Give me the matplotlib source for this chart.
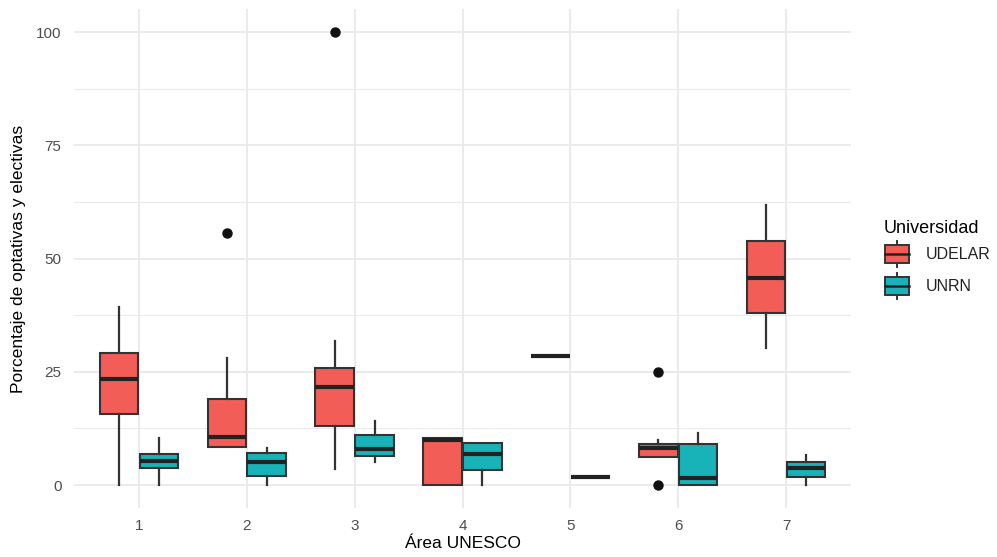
import matplotlib.pyplot as plt
from matplotlib.patches import Rectangle
from matplotlib.lines import Line2D

plt.rcParams['font.family'] = ['Liberation Sans', 'DejaVu Sans']

# Área UNESCO
areas = [1, 2, 3, 4, 5, 6, 7]

# UDELAR box stats
udelar_lo = [0.0, 8.3, 3.5, 0.0, 28.5, 6.3, 30.2]
udelar_q1 = [15.7, 8.3, 13.0, 0.0, 28.5, 6.3, 37.9]
udelar_med = [23.4, 10.7, 21.6, 9.9, 28.5, 8.1, 45.8]
udelar_q3 = [29.1, 19.0, 25.8, 10.4, 28.5, 9.1, 53.9]
udelar_hi = [39.4, 28.0, 31.8, 10.4, 28.5, 9.9, 61.8]
udelar_out = [[], [55.6], [100.0], [], [], [24.9, 0.0], []]

# UNRN box stats
unrn_lo = [0.0, 0.0, 5.1, 0.0, 1.8, 0.0, 0.0]
unrn_q1 = [3.7, 2.1, 6.5, 3.3, 1.8, 0.0, 1.7]
unrn_med = [5.4, 5.1, 7.9, 6.8, 1.8, 1.6, 3.7]
unrn_q3 = [6.8, 7.1, 11.0, 9.3, 1.8, 9.0, 5.1]
unrn_hi = [10.4, 8.2, 14.2, 9.3, 1.8, 11.5, 6.6]
unrn_out = [[], [], [], [], [], [], []]

red = '#F25D58'
teal = '#17B3B8'
edge = '#333333'


def make_stats(lo, q1, med, q3, hi, out):
    return [dict(whislo=a, q1=b, med=c, q3=d, whishi=e, fliers=f)
            for a, b, c, d, e, f in zip(lo, q1, med, q3, hi, out)]


fig = plt.figure(figsize=(9.97, 5.57), dpi=100)
ax = fig.add_axes([0.0742, 0.0885, 0.7794, 0.8945])

groups = [
    ('UDELAR', red, -0.185, make_stats(udelar_lo, udelar_q1, udelar_med, udelar_q3, udelar_hi, udelar_out)),
    ('UNRN', teal, 0.185, make_stats(unrn_lo, unrn_q1, unrn_med, unrn_q3, unrn_hi, unrn_out)),
]

for name, col, off, stats in groups:
    ax.bxp(stats, positions=[a + off for a in areas], widths=0.355,
           patch_artist=True, showcaps=False, manage_ticks=False,
           boxprops=dict(facecolor=col, edgecolor=edge, linewidth=1.5),
           medianprops=dict(color='#222222', linewidth=3),
           whiskerprops=dict(color=edge, linewidth=1.6),
           flierprops=dict(marker='o', markerfacecolor='#111111',
                           markeredgecolor='#111111', markersize=6.5),
           zorder=3)

ax.set_xlim(0.4, 7.6)
ax.set_ylim(-5, 105)
ax.set_xticks(areas)
ax.set_xticklabels([str(a) for a in areas])
ax.set_yticks([0, 25, 50, 75, 100])
ax.set_yticks([12.5, 37.5, 62.5, 87.5], minor=True)
ax.tick_params(axis='both', which='both', length=0, labelsize=11, colors='#4D4D4D')
ax.tick_params(axis='y', pad=9)
ax.tick_params(axis='x', pad=8)
ax.grid(True, which='major', color='#EBEBEB', linewidth=1.4, zorder=0)
ax.grid(True, which='minor', axis='y', color='#EBEBEB', linewidth=0.8, zorder=0)
ax.set_axisbelow(True)
for s in ax.spines.values():
    s.set_visible(False)

ax.set_xlabel('Área UNESCO', fontsize=12.5, labelpad=2)
ax.set_ylabel('Porcentaje de optativas y electivas', fontsize=12.5, labelpad=7)


class BoxKey:
    def __init__(self, color):
        self.color = color

    def legend_artist(self, legend, orig_handle, fontsize, handlebox):
        x0, y0 = -handlebox.xdescent, -handlebox.ydescent
        w, h = handlebox.width, handlebox.height
        tr = handlebox.get_transform()
        cx = x0 + w / 2
        handlebox.add_artist(Line2D([cx, cx], [y0 + h * 0.07, y0 + h * 0.93],
                                    color=edge, lw=1.4, transform=tr))
        rect = Rectangle((x0 + 1, y0 + h * 0.21), w - 2, h * 0.58,
                         facecolor=self.color, edgecolor=edge, lw=1.4, transform=tr)
        handlebox.add_artist(rect)
        handlebox.add_artist(Line2D([x0 + 1, x0 + w - 1], [y0 + h / 2] * 2,
                                    color='#222222', lw=1.8, transform=tr))
        return rect


h1 = Rectangle((0, 0), 1, 1)
h2 = Rectangle((0, 0), 1, 1)
leg = fig.legend([h1, h2], ['UDELAR', 'UNRN'],
                 handler_map={h1: BoxKey(red), h2: BoxKey(teal)},
                 title='Universidad', loc='center left',
                 bbox_to_anchor=(0.872, 0.532), frameon=False,
                 fontsize=11.5, title_fontsize=13, alignment='left',
                 handlelength=1.65, handleheight=2.55, labelspacing=0.1,
                 handletextpad=1.0)
for t in leg.get_texts():
    t.set_color('#222222')

fig.savefig('out.png', dpi=100)
